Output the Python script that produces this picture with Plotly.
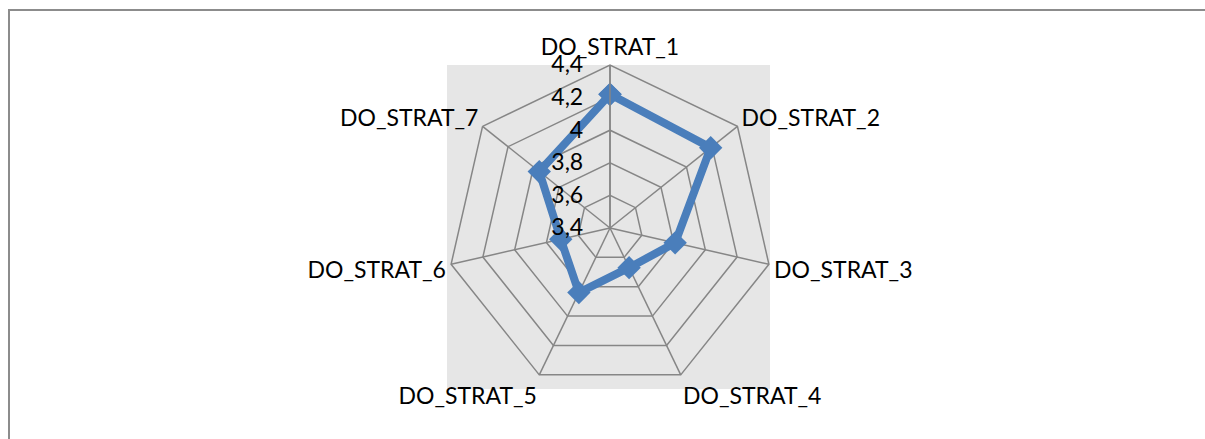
import plotly.graph_objects as go

categories = ["DO_STRAT_1", "DO_STRAT_2", "DO_STRAT_3", "DO_STRAT_4",
              "DO_STRAT_5", "DO_STRAT_6", "DO_STRAT_7"]
values = [4.22, 4.19, 3.81, 3.67, 3.84, 3.71, 3.955]
tick_values = [3.4, 3.6, 3.8, 4.0, 4.2, 4.4]

W, H = 1205, 439
cx, cy, R = 610, 228, 163

fig = go.Figure()
fig.add_trace(go.Scatterpolar(
    r=values + values[:1],
    theta=categories + categories[:1],
    mode="lines+markers",
    line=dict(color="#4a7ebb", width=8),
    marker=dict(symbol="diamond", size=18, color="#4a7ebb"),
    showlegend=False,
    hoverinfo="skip",
))

font = dict(family="Lato, Carlito, Calibri, sans-serif", size=23, color="#000000")

fig.update_layout(
    width=W, height=H,
    margin=dict(l=0, r=0, t=0, b=0),
    paper_bgcolor="white",
    separators=", ",
    font=font,
    polar=dict(
        domain=dict(x=[(cx - R) / W, (cx + R) / W],
                    y=[(H - cy - R) / H, (H - cy + R) / H]),
        gridshape="linear",
        bgcolor="rgba(0,0,0,0)",
        angularaxis=dict(
            rotation=90, direction="clockwise",
            showline=True, linecolor="#868686", linewidth=1.5,
            gridcolor="#868686", gridwidth=1.5,
            ticks="", tickfont=font,
        ),
        radialaxis=dict(
            range=[3.4, 4.4], tickvals=tick_values,
            angle=90, tickangle=90, side="counterclockwise",
            showline=True, linecolor="#868686", linewidth=1.5,
            gridcolor="#868686", gridwidth=1.5,
            ticks="outside", ticklen=18, tickcolor="rgba(0,0,0,0)",
            tickfont=font,
        ),
    ),
    shapes=[
        dict(type="rect", xref="paper", yref="paper", layer="below",
             x0=447 / W, x1=770 / W, y0=1 - 389 / H, y1=1 - 65 / H,
             fillcolor="#e6e6e6", line=dict(width=0)),
        dict(type="line", xref="paper", yref="paper",
             x0=8 / W, x1=1, y0=1 - 10 / H, y1=1 - 10 / H,
             line=dict(color="#8c8c8c", width=2)),
        dict(type="line", xref="paper", yref="paper",
             x0=9 / W, x1=9 / W, y0=1 - 10 / H, y1=0,
             line=dict(color="#8c8c8c", width=2)),
    ],
)

fig.write_html("out.html",
               config={"displayModeBar": False, "staticPlot": True},
               post_script="document.body.style.margin='0';document.body.style.overflow='hidden';")
